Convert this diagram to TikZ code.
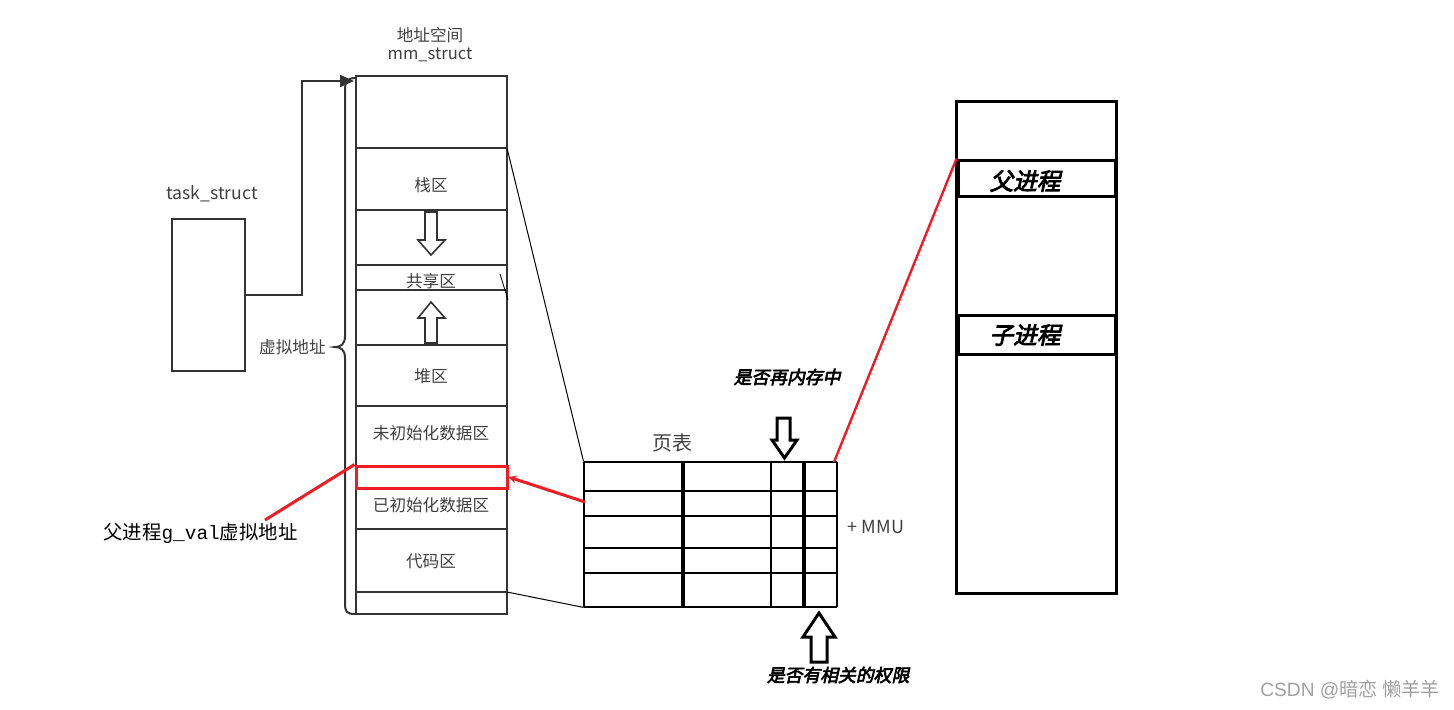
\documentclass[tikz,border=0pt]{standalone}
\usepackage{fontspec}
\setmainfont{Noto Sans CJK SC}
\newfontfamily\bifont{Noto Sans CJK SC}[FakeBold=3.5,FakeSlant=0.22]
\newfontfamily\monofont{Liberation Mono}
\newfontfamily\wmfont{Liberation Sans}
\usetikzlibrary{arrows.meta}
\definecolor{txtgray}{HTML}{404040}
\definecolor{linegray}{HTML}{333333}
\definecolor{wmgray}{HTML}{A0A0A0}
\definecolor{redline}{HTML}{EE1C25}
\tikzset{
  colbox/.style={draw=linegray, line width=1pt, inner sep=0pt, rectangle},
  seglabel/.style={text=txtgray, font=\fontsize{8.3pt}{10pt}\selectfont, inner sep=0pt},
  hollow/.style={draw=linegray, line width=0.8pt, fill=white, line join=miter},
  hollowblk/.style={draw=black, line width=1.5pt, fill=white, line join=miter},
  redl/.style={draw=redline, line width=1.5pt},
  ptline/.style={draw=black, line width=1pt},
  ptthick/.style={draw=black, line width=1.6pt},
  physbox/.style={draw=black, line width=1.5pt, inner sep=0pt, rectangle},
  bilabel/.style={font=\bifont\fontsize{11.8pt}{13pt}\selectfont, inner sep=0pt},
  bismall/.style={font=\bifont\fontsize{8.9pt}{10pt}\selectfont, inner sep=0pt},
}
\begin{document}
\begin{tikzpicture}[x=0.5pt,y=-0.5pt]
\useasboundingbox (0,0) rectangle (1454,709);

% titles
\node[seglabel] (title1) at (430,35) {地址空间};
\node[seglabel] (title2) at (430,55) {mm\_struct};

% task_struct
\node[seglabel, font=\fontsize{8.8pt}{10pt}\selectfont] (tasklab) at (212,194) {task\_struct};
\node[colbox, minimum width=36.5pt, minimum height=76pt] (task) at (208.5,295) {};

% mm_struct column
\node[colbox, minimum width=75.5pt, minimum height=269pt] (mm) at (431.5,345) {};
\foreach \yy in {148,210,265,290,345,406,466,529,592}
  \draw[draw=linegray, line width=1pt] (356,\yy) -- (507,\yy);

\node[seglabel] (stack) at (431,185) {栈区};
\node[seglabel] (share) at (431,281) {共享区};
\node[seglabel] (heap) at (431,376) {堆区};
\node[seglabel] (bss) at (431,433) {未初始化数据区};
\node[seglabel] (data) at (431,505) {已初始化数据区};
\node[seglabel] (code) at (431,561) {代码区};

% hollow arrows in column
\draw[hollow] (425,212) -- (437,212) -- (437,240) -- (445,240) -- (431,255) -- (418,240) -- (425,240) -- cycle;
\draw[hollow] (431,302) -- (445,318) -- (437,318) -- (437,343) -- (425,343) -- (425,318) -- (418,318) -- cycle;

% brace
\draw[draw=linegray, line width=1pt] (356,78) .. controls (346,78) and (345,82) .. (345,92) -- (345,336)
  .. controls (345,344) and (341,347) .. (335,347)
  .. controls (341,347) and (345,350) .. (345,358) -- (345,602)
  .. controls (345,612) and (346,614) .. (356,614);
\node[seglabel, anchor=east] (virt) at (326,347) {虚拟地址};

% connector task -> mm
\coordinate (mmin) at (354,81);
\draw[draw=linegray, line width=1pt, -{Triangle[length=7pt,width=6pt]}] (task.east) -- ++(56,0) |- (mmin);

% red box g_val
\node[draw=redline, line width=1.5pt, minimum width=75.5pt, minimum height=11pt, inner sep=0pt] (gval) at (431.5,477) {};
\node[inner sep=0pt, font=\fontsize{9.7pt}{12pt}\selectfont, anchor=west] (gvallab) at (103,533) {父进程{\monofont g\_val}虚拟地址};
\coordinate (gvalstart) at (265,520);
\draw[redl] (gvalstart) -- (gval.north west);

% page table
\node[inner sep=0pt, minimum width=126.5pt, minimum height=72.5pt] (pt) at (710.5,534.5) {};
\foreach \yy in {462,491,516,548,573,607}
  \draw[ptline] (584,\yy) -- (837,\yy);
\draw[ptline] (584,462) -- (584,607);
\draw[ptline] (771,462) -- (771,607);
\draw[ptline] (837,462) -- (837,607);
\draw[ptthick] (683,462) -- (683,607);
\draw[ptthick] (804,462) -- (804,607);
\node[inner sep=0pt, text=txtgray, font=\fontsize{10pt}{12pt}\selectfont] (ptlab) at (672,443) {页表};
\node[inner sep=0pt, text=txtgray, font=\fontsize{9pt}{11pt}\selectfont] (mmu) at (876,527) {+ MMU};

% thin connectors mm -> page table
\coordinate (stacktop) at (507,148);
\coordinate (codebot) at (507,592);
\draw[draw=black, line width=0.5pt] (stacktop) -- (pt.north west);
\draw[draw=black, line width=0.5pt] (codebot) -- (pt.south west);
\coordinate (sh1) at (500,274);
\coordinate (sh2) at (508,300);
\draw[draw=black, line width=0.4pt] (sh1) -- (sh2);

% red page table -> g_val
\coordinate (ptleft) at (585,502);
\draw[redl, -{Stealth[length=4pt,width=4pt]}] (ptleft) -- (gval.east);

% arrows at page table
\draw[hollowblk] (777,418) -- (790,418) -- (790,440) -- (797,440) -- (784.5,458) -- (772,440) -- (777,440) -- cycle;
\draw[hollowblk] (819,613) -- (835,637) -- (827,637) -- (827,662) -- (811,662) -- (811,637) -- (803,637) -- cycle;
\node[bismall] (inmem) at (787,377) {是否再内存中};
\node[bismall] (perm) at (838,675) {是否有相关的权限};

% physical memory
\node[physbox, minimum width=80pt, minimum height=246pt] (mem) at (1036.5,347) {};
\node[physbox, minimum width=78.5pt, minimum height=18pt] (fubox) at (1036.5,178) {};
\node[physbox, minimum width=78.5pt, minimum height=19.5pt] (zibox) at (1036.5,334.5) {};
\node[bilabel] (fu) at (1025,181) {父进程};
\node[bilabel] (zi) at (1025,335) {子进程};

% red page table -> physical memory
\coordinate (pttop) at (834,462);
\draw[redl, line width=1.2pt] (pttop) -- (fubox.north west);

% watermark
\node[inner sep=0pt, text=wmgray, font=\fontsize{9.6pt}{11pt}\selectfont] (wm) at (1350,690) {{\wmfont CSDN @}暗恋 懒羊羊};
\end{tikzpicture}
\end{document}
